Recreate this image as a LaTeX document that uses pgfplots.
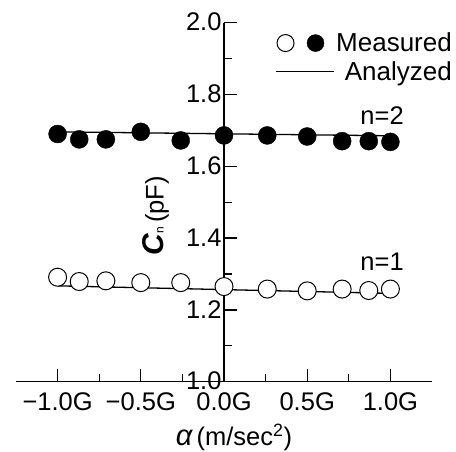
\documentclass[border=0pt]{standalone}
\usepackage{fontspec}
\setmainfont{Liberation Sans}
\usepackage{pgfplots}
\pgfplotsset{compat=1.18}
\begin{document}
\begin{tikzpicture}
\begin{axis}[name=ax,
  scale only axis, width=416pt, height=359pt,
  xmin=-1.25, xmax=1.25, ymin=1, ymax=2,
  axis x line=bottom, axis y line=middle,
  hide obscured x ticks=false, hide obscured y ticks=false,
  axis line style={-, line width=1.3pt},
  clip=false,
  xtick={-1,-0.5,0,0.5,1},
  xticklabels={−1.0G,−0.5G,0.0G,0.5G,1.0G},
  minor xtick={-0.75,-0.25,0.25,0.75},
  ytick={1.0,1.2,1.4,1.6,1.8,2.0},
  yticklabels={1.0,1.2,1.4,1.6,1.8,2.0},
  minor ytick={1.1,1.3,1.5,1.7,1.9},
  tick align=inside,
  major tick length=13pt, minor tick length=8pt,
  every tick/.style={black, line width=1.3pt},
  every tick label/.append style={font=\fontsize{25.5}{30}\selectfont},
  xticklabel style={yshift=-7.5pt},
  yticklabel style={xshift=1pt, yshift=0.5pt},
  legend style={draw=none, fill=none, font=\fontsize{26}{30}\selectfont,
    at={(rel axis cs:1,1)}, anchor=north east, xshift=22pt, yshift=-6pt,
    legend cell align=right, row sep=4pt, inner xsep=0pt,
    /tikz/column 1/.style={column sep=0pt}},
]
\addlegendimage{legend image code/.code={
  \path[draw=none, fill=none] (0,-9pt) rectangle (58pt,9pt);
  \draw[black, line width=1pt, fill=white] (10pt,0) circle (8.5pt);
  \fill[black] (40pt,0) circle (8.5pt);}}
\addlegendentry{Measured}
\addlegendimage{legend image code/.code={
  \path[draw=none, fill=none] (0,-9pt) rectangle (58pt,9pt);
  \draw[black, line width=1.3pt] (0pt,0) -- (58pt,0);}}
\addlegendentry{Analyzed}
% analyzed lines
\addplot[black, line width=1.3pt, forget plot] coordinates {(-1,1.696) (1,1.685)};
\addplot[black, line width=1.3pt, forget plot] coordinates {(-1,1.267) (1,1.246)};
% n=2 measured (filled)
\addplot[only marks, mark=*, mark size=9pt, mark options={fill=black, draw=black}, forget plot]
coordinates {(-1,1.690) (-0.87,1.675) (-0.71,1.675) (-0.5,1.696) (-0.26,1.672) (0,1.686) (0.26,1.686) (0.5,1.683) (0.71,1.670) (0.87,1.670) (1,1.668)};
% n=1 measured (open)
\addplot[only marks, mark=*, mark size=9pt, mark options={fill=white, draw=black, line width=1pt}, forget plot]
coordinates {(-1,1.291) (-0.87,1.279) (-0.71,1.281) (-0.5,1.276) (-0.26,1.276) (0,1.265) (0.26,1.258) (0.5,1.253) (0.71,1.258) (0.87,1.254) (1,1.258)};
\node[font=\fontsize{25.5}{30}\selectfont] at (axis cs:0.95,1.74) {n=2};
\node[font=\fontsize{25.5}{30}\selectfont] at (axis cs:0.95,1.335) {n=1};
\node[rotate=90, font=\fontsize{25.5}{30}\selectfont] at (axis cs:-0.41,1.462) {{\fontsize{30}{30}\selectfont\bfseries\itshape C}{\fontsize{12}{12}\selectfont n}\,(pF)};
\node[font=\fontsize{25.5}{30}\selectfont] at (axis cs:0.06,0.846) {{\fontsize{29}{30}\selectfont\itshape α}\,(m/sec\textsuperscript{2})};
\end{axis}
\pgfresetboundingbox
\path ([xshift=-16pt,yshift=-69.3pt]ax.south west) rectangle ([xshift=24pt,yshift=22.7pt]ax.north east);
\end{tikzpicture}
\end{document}
